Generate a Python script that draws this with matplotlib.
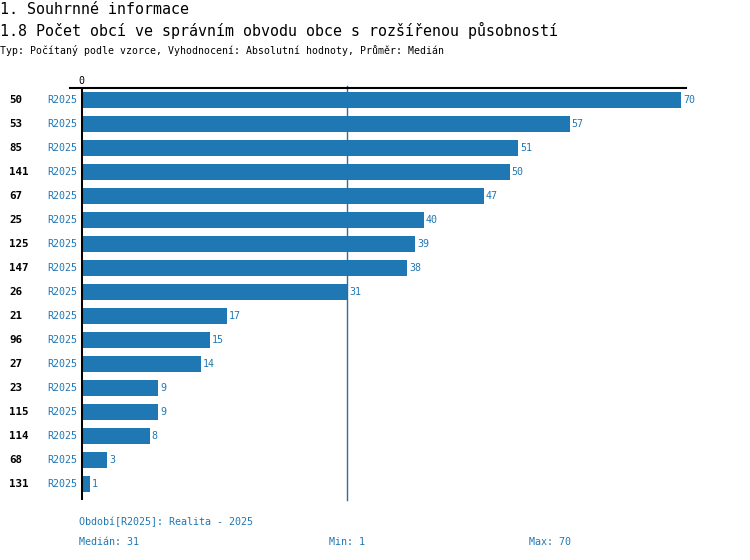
import matplotlib.pyplot as plt

# Data
obce_ids = ["50", "53", "85", "141", "67", "25", "125", "147", "26",
            "21", "96", "27", "23", "115", "114", "68", "131"]
hodnoty = [70, 57, 51, 50, 47, 40, 39, 38, 31, 17, 15, 14, 9, 9, 8, 3, 1]
obdobi = "R2025"
median = 31
minimum = 1
maximum = 70

blue = "#1f77b4"
mono = "DejaVu Sans Mono"
plt.rcParams['font.family'] = mono

W, H = 750, 560
fig = plt.figure(figsize=(W / 100, H / 100), dpi=100)


def fx(px):
    return px / W


def fy(py):
    return 1 - py / H


# Titles
fig.text(fx(0), fy(9), "1. Souhrnné informace", fontsize=10.8, va="center", ha="left")
fig.text(fx(0), fy(30), "1.8 Počet obcí ve správním obvodu obce s rozšířenou působností",
         fontsize=10.8, va="center", ha="left")
fig.text(fx(0), fy(50), "Typ: Počítaný podle vzorce, Vyhodnocení: Absolutní hodnoty, Průměr: Medián",
         fontsize=7.1, va="center", ha="left")

# Axes area: x 81..681 (0..70), y 88..500
left, right, top, bottom = 81, 681, 88, 500
ax = fig.add_axes([fx(left), fy(bottom), (right - left) / W, (bottom - top) / H])
ax.set_xlim(0, 70)
n = len(hodnoty)
ax.set_ylim(n - 1 + 16 / 24, -0.5)
ypos = list(range(n))
ax.barh(ypos, hodnoty, height=16 / 24, color=blue, zorder=2)

for spine in ax.spines.values():
    spine.set_visible(False)
ax.set_xticks([])
ax.set_yticks([])

# Left axis line
ax.axvline(0, color="black", lw=2.2, zorder=3)
# Top axis line (extends a bit past the plot)
ax.plot([-11 / 600, 605 / 600], [1, 1], transform=ax.transAxes, color="black",
        lw=1.5, clip_on=False, zorder=3)
# Median line
ax.plot([median / 70, median / 70], [0, 1 + 2 / 412], transform=ax.transAxes,
        color="#2a6d9f", lw=1, clip_on=False, zorder=1)
ax.text(0, 1 + 7 / 412, "0", transform=ax.transAxes, ha="center", va="center", fontsize=7.2)

for y, v, oid in zip(ypos, hodnoty, obce_ids):
    ax.text(v + 0.25, y, str(v), va="center", ha="left", color=blue, fontsize=7.2)
    ax.text(-0.45, y, obdobi, va="center", ha="right", color=blue, fontsize=7.2)
    ax.text(-72 / 600 * 70, y, oid, va="center", ha="left", color="black",
            fontsize=7.8, fontweight="bold")

# Footer
fig.text(fx(79), fy(522), "Období[R2025]: Realita - 2025", fontsize=7.2, color=blue, va="center")
fig.text(fx(79), fy(542), f"Medián: {median}", fontsize=7.2, color=blue, va="center")
fig.text(fx(329), fy(542), f"Min: {minimum}", fontsize=7.2, color=blue, va="center")
fig.text(fx(529), fy(542), f"Max: {maximum}", fontsize=7.2, color=blue, va="center")

fig.savefig("out.png", dpi=100)
